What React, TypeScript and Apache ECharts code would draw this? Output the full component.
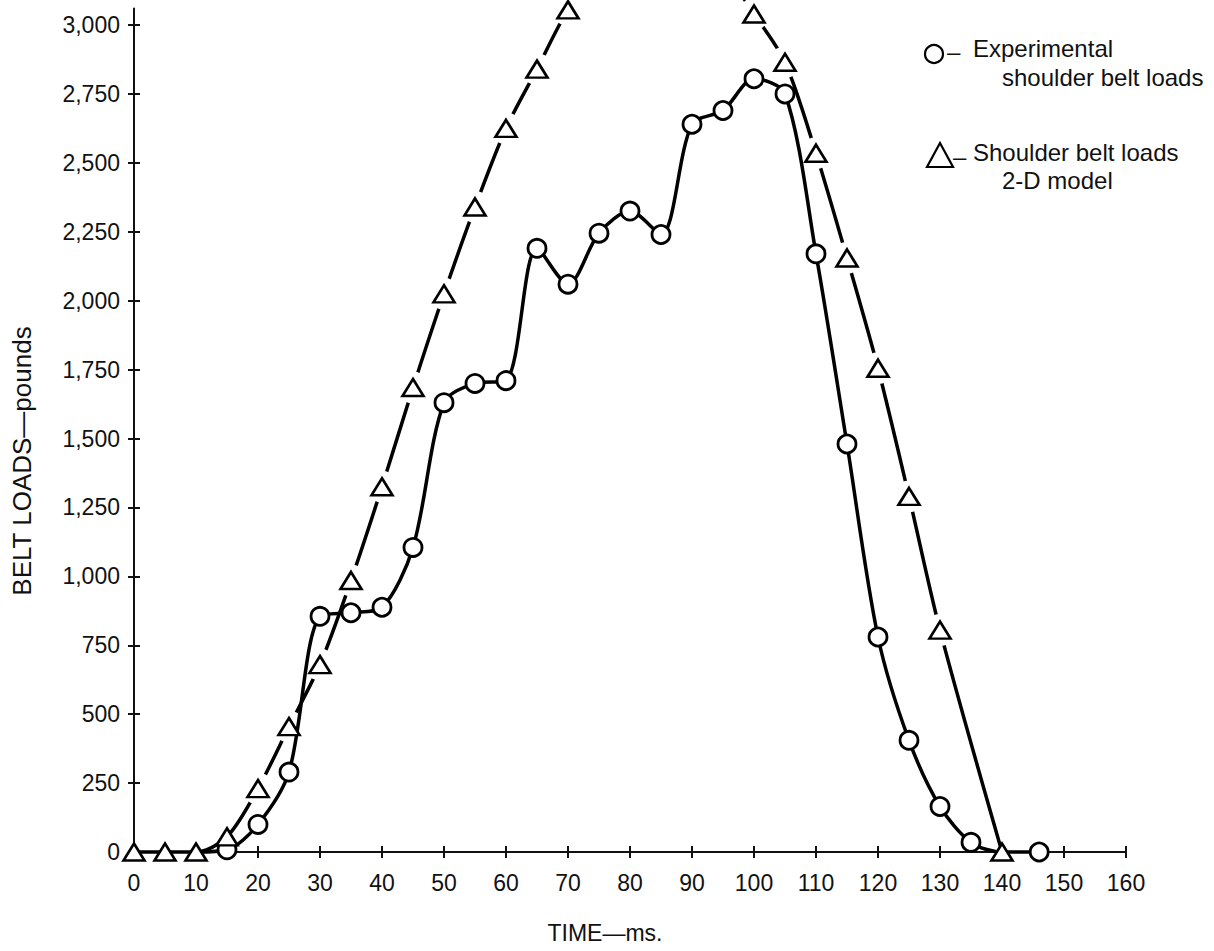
import React, { useEffect, useRef } from 'react';
import * as echarts from 'echarts';

// ---- Data ----
const xTicks = [0, 10, 20, 30, 40, 50, 60, 70, 80, 90, 100, 110, 120, 130, 140, 150, 160];
const yTicks = [0, 250, 500, 750, 1000, 1250, 1500, 1750, 2000, 2250, 2500, 2750, 3000];

// Shoulder belt loads, 2-D model (triangles)
const modelTime = [0, 5, 10, 15, 20, 25, 30, 35, 40, 45, 50, 55, 60, 65, 70, 75, 80, 85, 90, 95, 100, 105, 110, 115, 120, 125, 130, 140];
const modelLoad = [0, 0, 0, 55, 230, 455, 680, 985, 1325, 1685, 2025, 2340, 2625, 2840, 3055, 3190, 3290, 3320, 3290, 3200, 3040, 2865, 2535, 2155, 1755, 1290, 805, 0];

// Experimental shoulder belt loads (circles)
const expTime = [10, 15, 20, 25, 30, 35, 40, 45, 50, 55, 60, 65, 70, 75, 80, 85, 90, 95, 100, 105, 110, 115, 120, 125, 130, 135, 140, 146];
const expLoad = [0, 8, 100, 290, 855, 868, 888, 1105, 1630, 1700, 1710, 2190, 2060, 2245, 2325, 2240, 2640, 2690, 2805, 2750, 2170, 1480, 780, 405, 165, 35, 0, 0];
const expUnmarked = [10, 140];

// model points where the drafted line is broken around the marker
const haloFrom = 20;
const haloTo = 130;

const legendExp = ['Experimental', 'shoulder belt loads'];
const legendModel = ['Shoulder belt loads', '2-D model'];
const xTitle = 'TIME\u2014ms.';
const yTitle = 'BELT LOADS\u2014pounds';

const fontFamily = '"Liberation Sans", Arial, Helvetica, sans-serif';
const ink = '#111';
const fmt = (v: number) => String(v).replace(/\B(?=(\d{3})+(?!\d))/g, ',');

export default function App() {
  const ref = useRef<HTMLDivElement>(null);

  useEffect(() => {
    if (!ref.current) return;
    const chart = echarts.init(ref.current, undefined, { renderer: 'svg' });

    const modelData = modelTime.map((t, i) => [t, modelLoad[i]]);
    const haloData = modelData.filter((d) => d[0] >= haloFrom && d[0] <= haloTo);
    const expData = expTime.map((t, i) =>
      expUnmarked.includes(t) ? { value: [t, expLoad[i]], symbol: 'none' } : { value: [t, expLoad[i]] }
    );

    const textStyle = { fontFamily, fontSize: 24, fill: ink };

    const option: any = {
      animation: false,
      backgroundColor: '#fff',
      grid: { left: 134, right: 88, top: 8.5, bottom: 99, containLabel: false },
      xAxis: [
        {
          type: 'value', min: 0, max: 160, interval: 10,
          axisLine: { show: true, lineStyle: { color: ink, width: 2 } },
          axisTick: { show: true, inside: false, length: 6, lineStyle: { color: ink, width: 2 }, customValues: xTicks },
          axisLabel: { margin: 19, fontSize: 23, color: ink, fontFamily, customValues: xTicks },
          splitLine: { show: false },
        },
        {
          type: 'value', min: 0, max: 160, interval: 10, position: 'bottom', offset: 0,
          axisLine: { show: false },
          axisTick: { show: true, inside: true, length: 6, lineStyle: { color: ink, width: 2 }, customValues: xTicks },
          axisLabel: { show: false },
          splitLine: { show: false },
        },
      ],
      yAxis: [
        {
          type: 'value', min: 0, max: 3060,
          axisLine: { show: true, lineStyle: { color: ink, width: 2 } },
          axisTick: { show: true, inside: false, length: 6, lineStyle: { color: ink, width: 2 }, customValues: yTicks },
          axisLabel: { margin: 14, fontSize: 23, color: ink, fontFamily, formatter: fmt, customValues: yTicks },
          splitLine: { show: false },
        },
        {
          type: 'value', min: 0, max: 3060, position: 'left', offset: 0,
          axisLine: { show: false },
          axisTick: { show: true, inside: true, length: 6, lineStyle: { color: ink, width: 2 }, customValues: yTicks },
          axisLabel: { show: false },
          splitLine: { show: false },
        },
      ],
      series: [
        {
          name: 'model-line', type: 'line', data: modelData, smooth: 0.3,
          symbol: 'none', showSymbol: false, clip: false, z: 2,
          lineStyle: { color: '#000', width: 3.5 },
        },
        {
          name: 'model-gap', type: 'scatter', data: haloData, symbol: 'circle', symbolSize: 32,
          itemStyle: { color: '#fff', opacity: 1 }, clip: false, z: 3, silent: true,
        },
        {
          name: 'Experimental shoulder belt loads', type: 'line', data: expData, smooth: 0.3,
          symbol: 'circle', symbolSize: 18, showSymbol: true, clip: false, z: 4,
          lineStyle: { color: '#000', width: 3.5 },
          itemStyle: { color: '#fff', borderColor: '#000', borderWidth: 2.8, opacity: 1 },
        },
        {
          name: 'Shoulder belt loads 2-D model', type: 'scatter', data: modelData,
          symbol: 'triangle', symbolSize: [21, 17], clip: false, z: 5,
          itemStyle: { color: '#fff', borderColor: '#000', borderWidth: 2.6, opacity: 1 },
        },
      ],
      graphic: [
        { type: 'circle', shape: { cx: 934, cy: 54, r: 9 }, style: { fill: '#fff', stroke: '#000', lineWidth: 2.2 } },
        { type: 'text', x: 947, y: 51, style: { ...textStyle, text: '\u2013', textVerticalAlign: 'middle' } },
        { type: 'text', x: 973, y: 48, style: { ...textStyle, text: legendExp[0], textVerticalAlign: 'middle' } },
        { type: 'text', x: 1002, y: 77, style: { ...textStyle, text: legendExp[1], textVerticalAlign: 'middle' } },
        { type: 'polygon', shape: { points: [[940, 143], [927, 167], [953, 167]] }, style: { fill: '#fff', stroke: '#000', lineWidth: 2.2 } },
        { type: 'text', x: 953, y: 156, style: { ...textStyle, text: '\u2013', textVerticalAlign: 'middle' } },
        { type: 'text', x: 973, y: 152, style: { ...textStyle, text: legendModel[0], textVerticalAlign: 'middle' } },
        { type: 'text', x: 1002, y: 180, style: { ...textStyle, text: legendModel[1], textVerticalAlign: 'middle' } },
        { type: 'text', x: 605, y: 933, style: { ...textStyle, fontSize: 23, text: xTitle, textAlign: 'center', textVerticalAlign: 'middle' } },
        { type: 'text', x: 22, y: 461, rotation: Math.PI / 2, style: { ...textStyle, fontSize: 26, text: yTitle, textAlign: 'center', textVerticalAlign: 'middle' } },
      ],
    };

    chart.setOption(option);
    return () => chart.dispose();
  }, []);

  return <div ref={ref} style={{ position: 'fixed', left: 0, top: 0, width: 1214, height: 951 }} />;
}
